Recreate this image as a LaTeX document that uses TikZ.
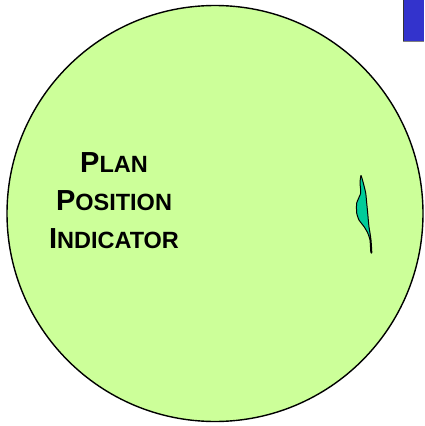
\documentclass[tikz,border=0pt]{standalone}
\usepackage{fontspec}
\setmainfont{Liberation Sans}
\definecolor{scopegreen}{HTML}{CCFF99}
\definecolor{echoteal}{HTML}{00CC99}
\definecolor{markblue}{HTML}{3333CC}
\tikzset{
  pplabel/.style={anchor=base, inner sep=0pt, font=\bfseries},
}
\newcommand{\ppiBig}[1]{{\fontsize{29}{34}\selectfont #1}}
\newcommand{\ppiSmall}[1]{{\fontsize{23.5}{28}\selectfont #1}}
\begin{document}
\begin{tikzpicture}[x=1pt,y=-1pt]
\useasboundingbox (0,0) rectangle (424,426);
% scope face
\draw[line width=1.4pt, fill=scopegreen] (215,213.5) circle (208);
% blue marker at top right
\fill[markblue] (403,0) rectangle (424,41);
\draw[black!80, line width=1.2pt] (403.5,0) -- (403.5,41);
\draw[black!50, line width=0.6pt] (403,41) -- (424,41);
% echo blob
\draw[line width=1pt, fill=echoteal, line join=round]
  plot[smooth cycle, tension=0.35] coordinates {
    (361,175.5) (363.3,183) (365.7,193) (366.7,203) (367.7,213)
    (368.3,220) (369,227) (370,233) (371,240) (371.8,252.5)
    (370.8,252) (370,240) (367.7,233) (364.3,227) (359,220)
    (356.7,213) (356.7,203) (360.7,193) (360,183)
  };
% label
\node[pplabel] (l1) at (114,172) {\ppiBig{P}\ppiSmall{LAN}};
\node[pplabel] (l2) at (114,210) {\ppiBig{P}\ppiSmall{OSITION}};
\node[pplabel] (l3) at (114,248) {\ppiBig{I}\ppiSmall{NDICATOR}};
\end{tikzpicture}
\end{document}
